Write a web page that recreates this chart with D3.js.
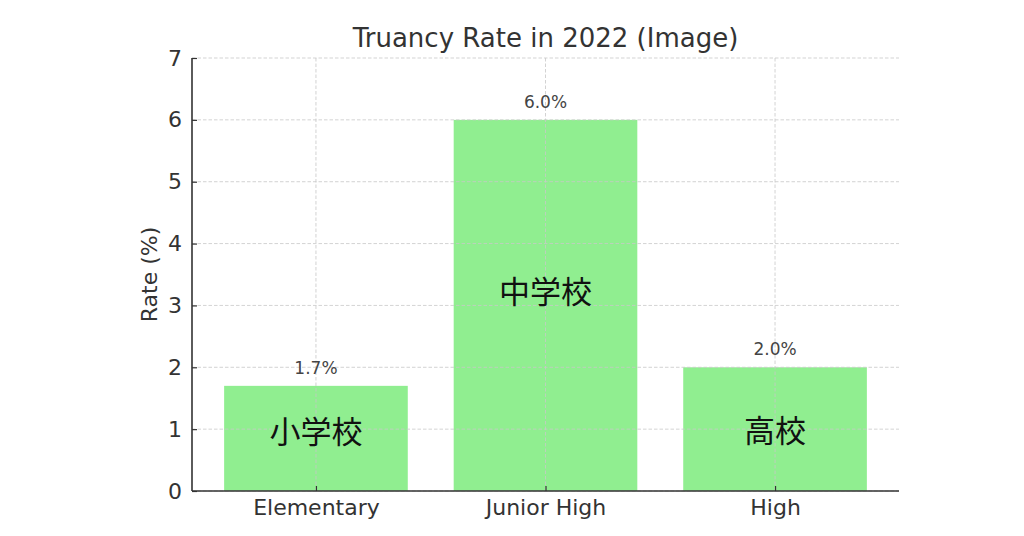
<!DOCTYPE html>
<html><head><meta charset="utf-8">
<script src="https://cdn.jsdelivr.net/npm/d3@7"></script>
<style>body{margin:0;background:#fff}svg{display:block}</style>
</head><body>
<svg id="c" width="1024" height="536"></svg>
<script>
const categories = ["Elementary", "Junior High", "High"];
const values = [1.7, 6.0, 2.0];
const jpLabels = ["小学校", "中学校", "高校"];
const jpLabelY = [1.0, 3.26, 1.01];
const yTicks = [0, 1, 2, 3, 4, 5, 6, 7];
const title = "Truancy Rate in 2022 (Image)";
const yTitle = "Rate (%)";

const svg = d3.select("#c");
const L = 192, R = 899, T = 58, B = 491;
const font = "'DejaVu Sans', sans-serif";

const x = d3.scaleLinear().domain([-0.54, categories.length - 1 + 0.54]).range([L, R]);
const y = d3.scaleLinear().domain([0, 7]).range([B, T]);
const bw = x(0.8) - x(0);

// bars
svg.append("g").selectAll("rect").data(values).join("rect")
  .attr("x", (d, i) => x(i) - bw / 2).attr("y", d => y(d))
  .attr("width", bw).attr("height", d => y(0) - y(d))
  .attr("fill", "#90ee90");

// grid over bars
const grid = svg.append("g").attr("stroke", "#c8c8c8").attr("stroke-width", 0.8).attr("stroke-dasharray", "3.5,2");
grid.selectAll(".h").data(yTicks).join("line")
  .attr("x1", L).attr("x2", R).attr("y1", d => y(d)).attr("y2", d => y(d));
grid.selectAll(".v").data(categories).join("line")
  .attr("x1", (d, i) => x(i)).attr("x2", (d, i) => x(i)).attr("y1", T).attr("y2", B);

// axes
const yAxis = d3.axisLeft(y).tickValues(yTicks).tickSize(-5).tickPadding(10).tickFormat(d3.format("d"));
const gy = svg.append("g").attr("transform", `translate(${L},0)`).call(yAxis);
gy.select(".domain").attr("d", `M0,${T}V${B}`);
const xAxis = d3.axisBottom(x).tickValues(d3.range(categories.length)).tickSize(-5).tickPadding(8)
  .tickFormat(i => categories[i]);
const gx = svg.append("g").attr("transform", `translate(0,${B})`).call(xAxis);
gx.select(".domain").attr("d", `M${L},0H${R}`);
[gx, gy].forEach(g => {
  g.select(".domain").attr("stroke", "#333").attr("stroke-width", 1.6);
  g.selectAll(".tick line").attr("stroke", "#333").attr("stroke-width", 1.2);
  g.selectAll(".tick text").attr("fill", "#333").style("font-family", font).style("font-size", "22px");
});

// value labels
svg.append("g").selectAll("text").data(values).join("text")
  .attr("x", (d, i) => x(i)).attr("y", d => y(d) - 12)
  .attr("text-anchor", "middle").attr("fill", "#444")
  .style("font-family", font).style("font-size", "17px")
  .text(d => d.toFixed(1) + "%");

// Japanese labels
svg.append("g").selectAll("text").data(jpLabels).join("text")
  .attr("x", (d, i) => x(i)).attr("y", (d, i) => y(jpLabelY[i]))
  .attr("text-anchor", "middle").attr("dominant-baseline", "central").attr("fill", "#111")
  .style("font-family", "'Noto Sans CJK JP', sans-serif").style("font-size", "31px")
  .text(d => d);

// titles
svg.append("text").attr("x", (L + R) / 2).attr("y", 47).attr("text-anchor", "middle")
  .attr("fill", "#333").style("font-family", font).style("font-size", "26px").text(title);
svg.append("text").attr("transform", `translate(157,${(T + B) / 2}) rotate(-90)`)
  .attr("text-anchor", "middle").attr("fill", "#333")
  .style("font-family", font).style("font-size", "22px").text(yTitle);
</script>
</body></html>
